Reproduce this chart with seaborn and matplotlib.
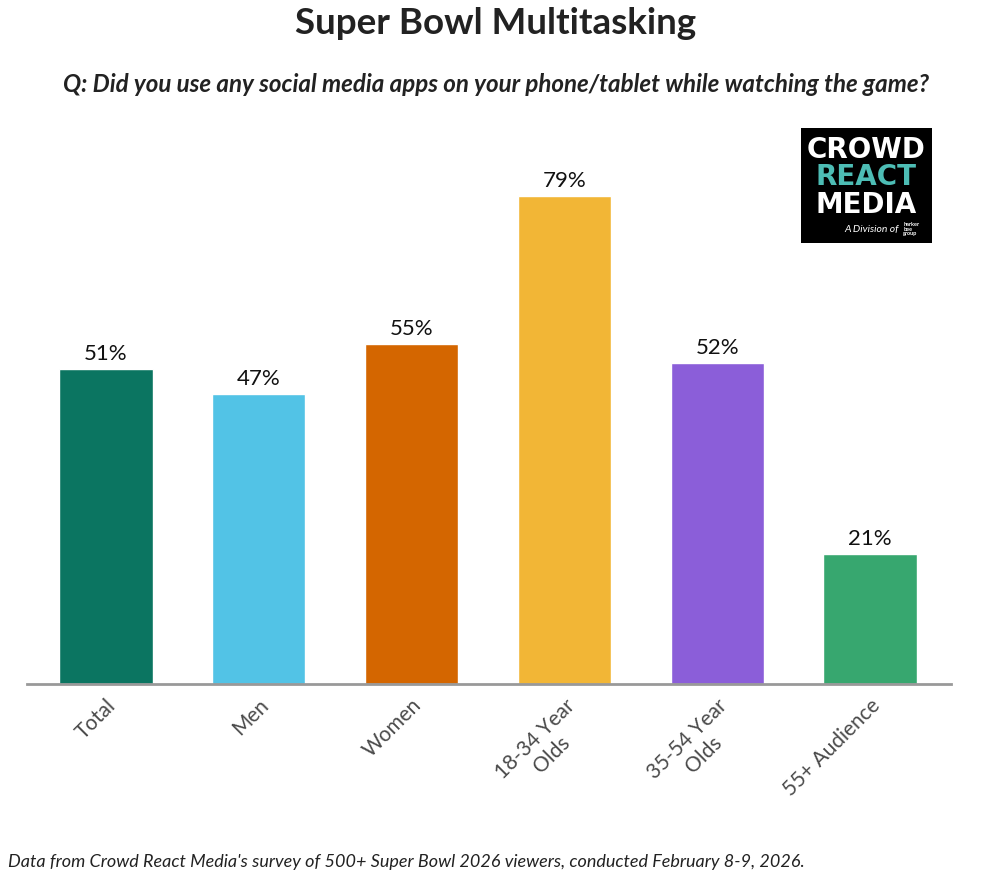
import matplotlib
matplotlib.use("Agg")
import matplotlib.pyplot as plt
import pandas as pd
import seaborn as sns

groups = ["Total", "Men", "Women", "18-34 Year\nOlds", "35-54 Year\nOlds", "55+ Audience"]
shares = [51, 47, 55, 79, 52, 21]
colors = ["#0b7561", "#52c3e6", "#d46600", "#f2b636", "#8b5ed9", "#37a76f"]

title = "Super Bowl Multitasking"
question = "Q: Did you use any social media apps on your phone/tablet while watching the game?"
source = ("Data from Crowd React Media's survey of 500+ Super Bowl 2026 viewers, "
          "conducted February 8-9, 2026.")

sns.set_theme(style="white")
plt.rcParams["font.family"] = ["Lato", "DejaVu Sans"]

df = pd.DataFrame({"group": groups, "share": shares})

fig = plt.figure(figsize=(9.92, 8.82), dpi=100)
ax = fig.add_axes([27 / 992, 1 - 684 / 882, 924 / 992, 556 / 882])

sns.barplot(data=df, x="group", y="share", hue="group", palette=colors,
            width=0.61, saturation=1, legend=False, ax=ax)

for cont in ax.containers:
    ax.bar_label(cont, fmt="{:.0f}%", padding=3.5, fontsize=16, color="#111111")

ax.set_ylim(0, 90)
ax.set_xlim(-0.517, 5.53)
ax.set_xlabel("")
ax.set_ylabel("")
ax.set_yticks([])
sns.despine(ax=ax, left=True)
ax.spines["bottom"].set_color("#999999")
ax.spines["bottom"].set_linewidth(2)
ax.tick_params(axis="x", length=0, pad=8)
ax.set_xticks(range(len(groups)))
ax.set_xticklabels(groups, rotation=45, ha="right", rotation_mode="anchor",
                   multialignment="center", fontsize=15, color="#4a4a4a")

fig.text(0.5, 1 - 23 / 882, title, ha="center", va="center",
         fontsize=26.5, fontweight="bold", color="#222222")
fig.text(0.5, 1 - 85 / 882, question, ha="center", va="center",
         fontsize=17.4, fontweight="bold", fontstyle="italic", color="#222222")
fig.text(8 / 992, 1 - 862 / 882, source, ha="left", va="center",
         fontsize=13, fontstyle="italic", color="#222222")

# logo box
logo = fig.add_axes([801 / 992, 1 - 243 / 882, 131 / 992, 115 / 882])
logo.set_facecolor("black")
logo.set_xticks([])
logo.set_yticks([])
for s in logo.spines.values():
    s.set_visible(False)
logo.set_xlim(0, 1)
logo.set_ylim(0, 1)
logo.text(0.5, 0.81, "CROWD", ha="center", va="center", color="white",
          fontsize=20, fontweight="bold", family=["DejaVu Sans"])
logo.text(0.5, 0.57, "REACT", ha="center", va="center", color="#4dbdb5",
          fontsize=20, fontweight="bold", family=["DejaVu Sans"])
logo.text(0.5, 0.33, "MEDIA", ha="center", va="center", color="white",
          fontsize=20, fontweight="bold", family=["DejaVu Sans"])
logo.text(0.75, 0.12, "A Division of", ha="right", va="center", color="white",
          fontsize=7.5, fontstyle="italic")
logo.text(0.78, 0.12, "harker\nbee\ngroup", ha="left", va="center", color="white",
          fontsize=4, fontweight="bold", linespacing=0.9)

fig.savefig("out.png", dpi=100, facecolor="white")
